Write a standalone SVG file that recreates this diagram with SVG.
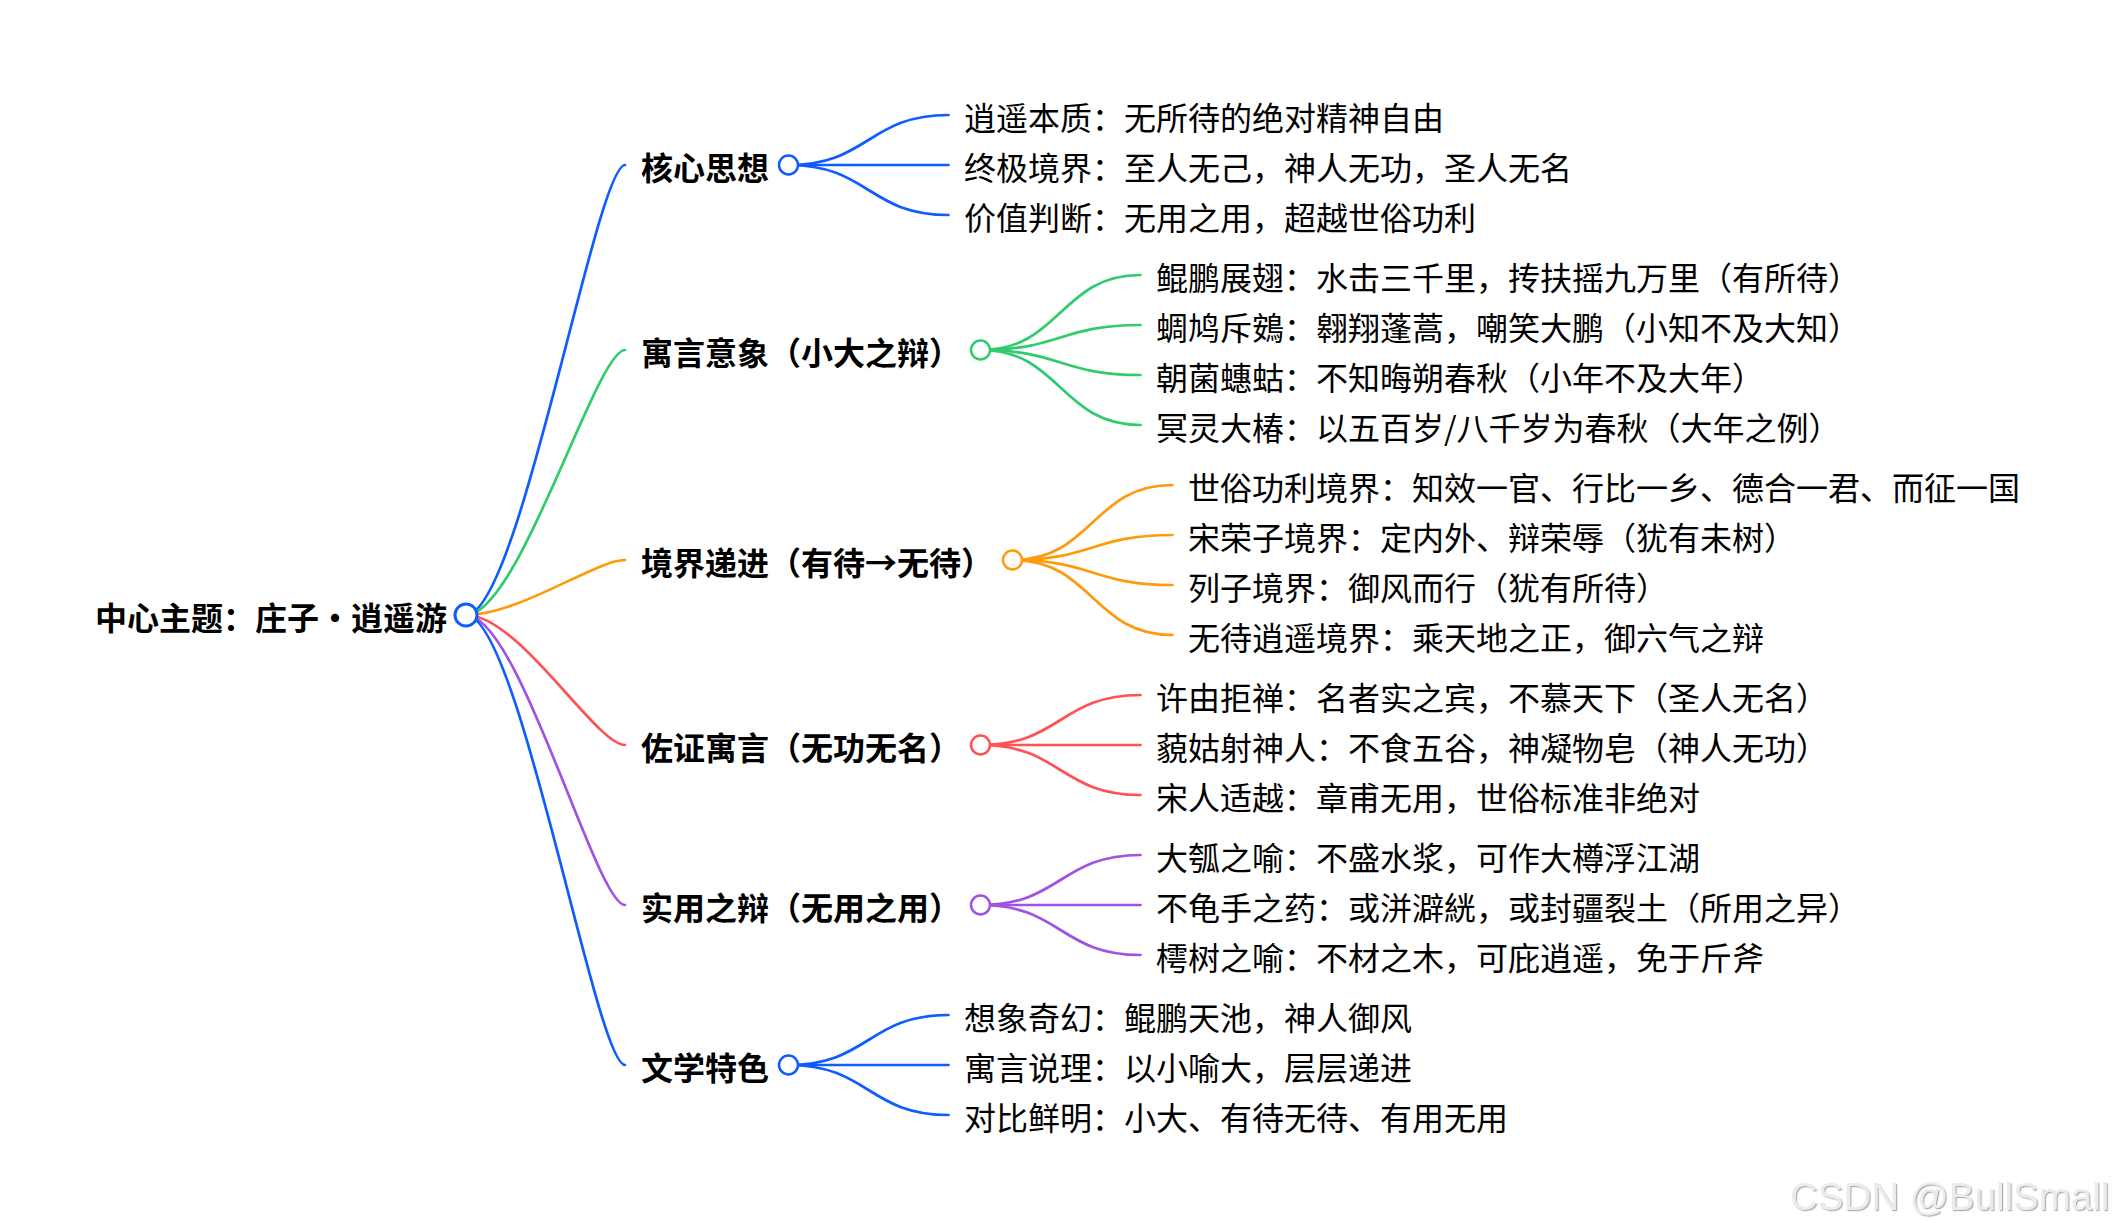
<svg xmlns="http://www.w3.org/2000/svg" width="2118" height="1232" viewBox="0 0 2118 1232">
<style>
text{font-family:"Noto Sans CJK SC","Noto Sans",sans-serif;font-size:32px;fill:#000}
.b{font-weight:700}
.ln{fill:none;stroke-width:2.7;stroke-linecap:round}
.dot{fill:#fff}
.c1{stroke:#0f5cff}.c2{stroke:#2fcb6c}.c3{stroke:#ff9a0a}.c4{stroke:#ff5252}.c5{stroke:#a052e0}
.wm{font-family:"Liberation Sans",Arial,sans-serif;font-size:38.5px;fill:#ececec}
</style>
<defs>
<filter id="emb" x="-5%" y="-20%" width="110%" height="140%">
<feDropShadow dx="1.2" dy="1.2" stdDeviation="0.6" flood-color="#9a9a9a" flood-opacity="0.8"/>
</filter>
</defs>
<rect width="2118" height="1232" fill="#fff"/>
<g id="connectors">
<path class="ln c1" d="M466,615 C519,615 596,165 625,165"/>
<path class="ln c2" d="M466,615 C519,615 596,350 625,350"/>
<path class="ln c3" d="M466,615 C519,615 596,560 625,560"/>
<path class="ln c4" d="M466,615 C519,615 596,745 625,745"/>
<path class="ln c5" d="M466,615 C519,615 596,905 625,905"/>
<path class="ln c1" d="M466,615 C519,615 596,1065 625,1065"/>
<path class="ln c1" d="M788.5,165 C868.5,165 868.5,115 948.5,115"/>
<path class="ln c1" d="M788.5,165 L948.5,165"/>
<path class="ln c1" d="M788.5,165 C868.5,165 868.5,215 948.5,215"/>
<path class="ln c2" d="M980.5,350 C1060.5,350 1060.5,275 1140.5,275"/>
<path class="ln c2" d="M980.5,350 C1060.5,350 1060.5,325 1140.5,325"/>
<path class="ln c2" d="M980.5,350 C1060.5,350 1060.5,375 1140.5,375"/>
<path class="ln c2" d="M980.5,350 C1060.5,350 1060.5,425 1140.5,425"/>
<path class="ln c3" d="M1012.5,560 C1092.5,560 1092.5,485 1172.5,485"/>
<path class="ln c3" d="M1012.5,560 C1092.5,560 1092.5,535 1172.5,535"/>
<path class="ln c3" d="M1012.5,560 C1092.5,560 1092.5,585 1172.5,585"/>
<path class="ln c3" d="M1012.5,560 C1092.5,560 1092.5,635 1172.5,635"/>
<path class="ln c4" d="M980.5,745 C1060.5,745 1060.5,695 1140.5,695"/>
<path class="ln c4" d="M980.5,745 L1140.5,745"/>
<path class="ln c4" d="M980.5,745 C1060.5,745 1060.5,795 1140.5,795"/>
<path class="ln c5" d="M980.5,905 C1060.5,905 1060.5,855 1140.5,855"/>
<path class="ln c5" d="M980.5,905 L1140.5,905"/>
<path class="ln c5" d="M980.5,905 C1060.5,905 1060.5,955 1140.5,955"/>
<path class="ln c1" d="M788.5,1065 C868.5,1065 868.5,1015 948.5,1015"/>
<path class="ln c1" d="M788.5,1065 L948.5,1065"/>
<path class="ln c1" d="M788.5,1065 C868.5,1065 868.5,1115 948.5,1115"/>
</g>
<g id="root">
<text class="b" x="95" y="629.5">中心主题：庄子・逍遥游</text>
<circle class="dot c1" cx="466" cy="615" r="11" stroke-width="3"/>
</g>
<g id="b1">
<text class="b" x="641" y="179.5">核心思想</text>
<circle class="dot c1" cx="788.5" cy="165" r="9.5" stroke-width="2.5"/>
</g>
<g id="b1-l1"><text x="964" y="129.5">逍遥本质：无所待的绝对精神自由</text></g>
<g id="b1-l2"><text x="964" y="179.5">终极境界：至人无己，神人无功，圣人无名</text></g>
<g id="b1-l3"><text x="964" y="229.5">价值判断：无用之用，超越世俗功利</text></g>
<g id="b2">
<text class="b" x="641" y="364.5">寓言意象（小大之辩）</text>
<circle class="dot c2" cx="980.5" cy="350" r="9.5" stroke-width="2.5"/>
</g>
<g id="b2-l1"><text x="1156" y="289.5">鲲鹏展翅：水击三千里，抟扶摇九万里（有所待）</text></g>
<g id="b2-l2"><text x="1156" y="339.5">蜩鸠斥鴳：翱翔蓬蒿，嘲笑大鹏（小知不及大知）</text></g>
<g id="b2-l3"><text x="1156" y="389.5">朝菌蟪蛄：不知晦朔春秋（小年不及大年）</text></g>
<g id="b2-l4"><text x="1156" y="439.5">冥灵大椿：以五百岁/八千岁为春秋（大年之例）</text></g>
<g id="b3">
<text class="b" x="641" y="574.5">境界递进（有待→无待）</text>
<circle class="dot c3" cx="1012.5" cy="560" r="9.5" stroke-width="2.5"/>
</g>
<g id="b3-l1"><text x="1188" y="499.5">世俗功利境界：知效一官、行比一乡、德合一君、而征一国</text></g>
<g id="b3-l2"><text x="1188" y="549.5">宋荣子境界：定内外、辩荣辱（犹有未树）</text></g>
<g id="b3-l3"><text x="1188" y="599.5">列子境界：御风而行（犹有所待）</text></g>
<g id="b3-l4"><text x="1188" y="649.5">无待逍遥境界：乘天地之正，御六气之辩</text></g>
<g id="b4">
<text class="b" x="641" y="759.5">佐证寓言（无功无名）</text>
<circle class="dot c4" cx="980.5" cy="745" r="9.5" stroke-width="2.5"/>
</g>
<g id="b4-l1"><text x="1156" y="709.5">许由拒禅：名者实之宾，不慕天下（圣人无名）</text></g>
<g id="b4-l2"><text x="1156" y="759.5">藐姑射神人：不食五谷，神凝物皂（神人无功）</text></g>
<g id="b4-l3"><text x="1156" y="809.5">宋人适越：章甫无用，世俗标准非绝对</text></g>
<g id="b5">
<text class="b" x="641" y="919.5">实用之辩（无用之用）</text>
<circle class="dot c5" cx="980.5" cy="905" r="9.5" stroke-width="2.5"/>
</g>
<g id="b5-l1"><text x="1156" y="869.5">大瓠之喻：不盛水浆，可作大樽浮江湖</text></g>
<g id="b5-l2"><text x="1156" y="919.5">不龟手之药：或洴澼絖，或封疆裂土（所用之异）</text></g>
<g id="b5-l3"><text x="1156" y="969.5">樗树之喻：不材之木，可庇逍遥，免于斤斧</text></g>
<g id="b6">
<text class="b" x="641" y="1079.5">文学特色</text>
<circle class="dot c1" cx="788.5" cy="1065" r="9.5" stroke-width="2.5"/>
</g>
<g id="b6-l1"><text x="964" y="1029.5">想象奇幻：鲲鹏天池，神人御风</text></g>
<g id="b6-l2"><text x="964" y="1079.5">寓言说理：以小喻大，层层递进</text></g>
<g id="b6-l3"><text x="964" y="1129.5">对比鲜明：小大、有待无待、有用无用</text></g>
<g id="watermark"><text class="wm" x="1790" y="1210" filter="url(#emb)">CSDN @BullSmall</text></g>
</svg>
